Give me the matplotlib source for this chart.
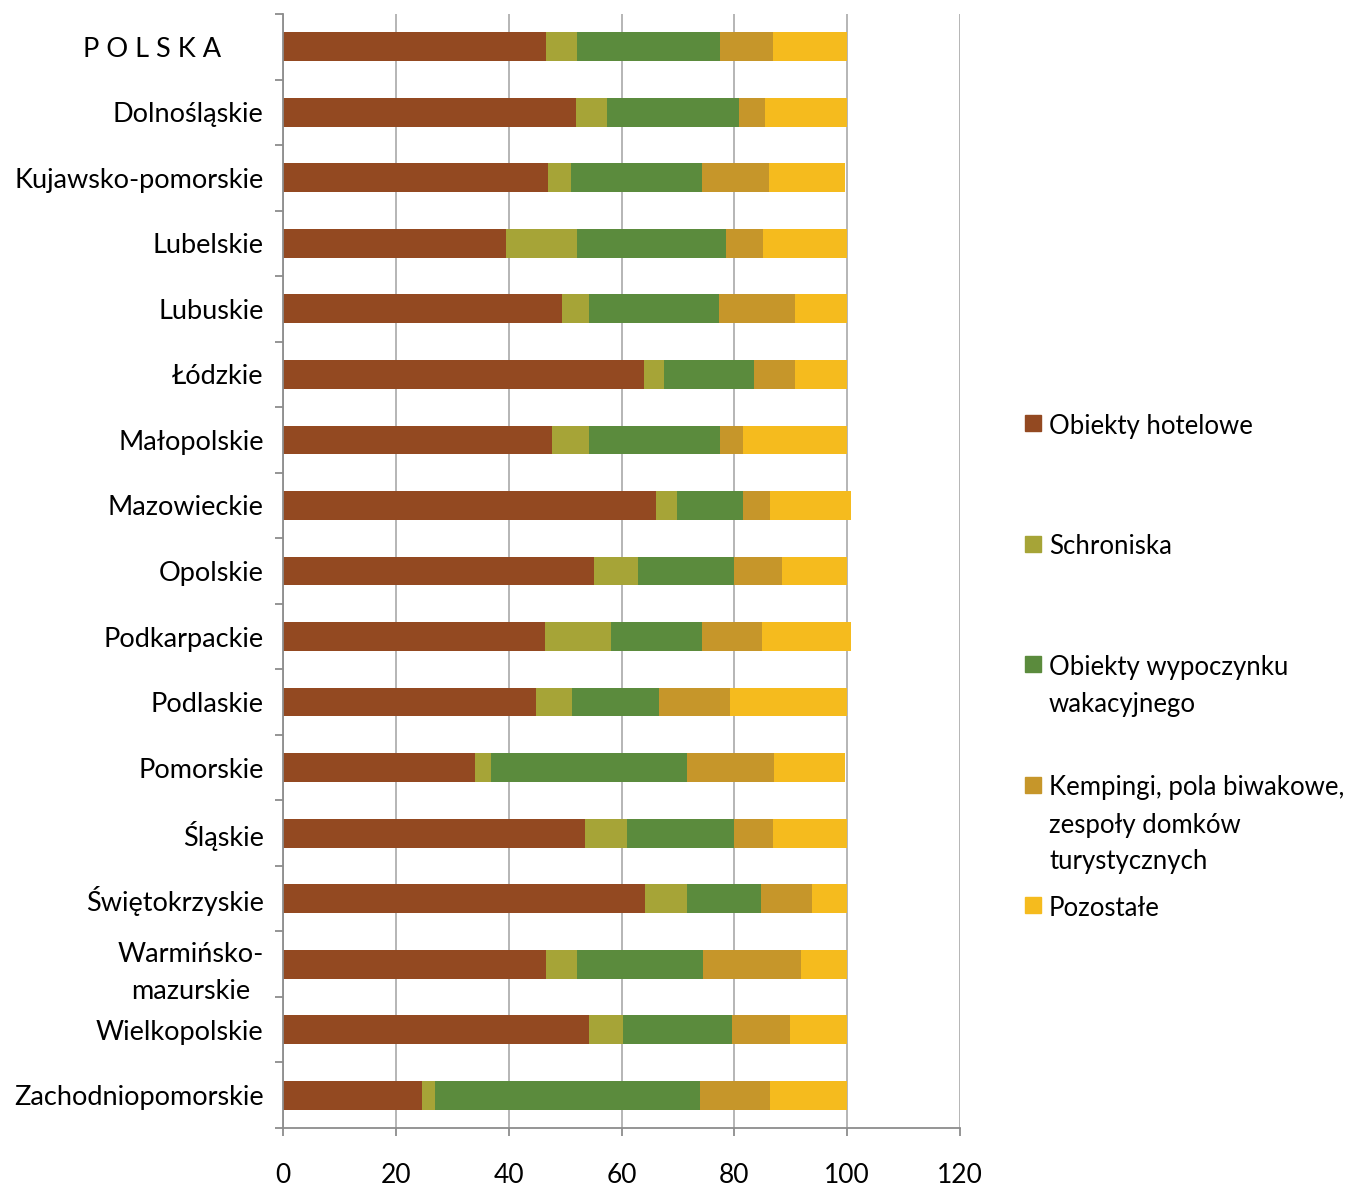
import numpy as np
import matplotlib
matplotlib.use("Agg")
import matplotlib.pyplot as plt
from matplotlib.patches import Rectangle
from matplotlib.ticker import MultipleLocator, FixedLocator
from matplotlib.transforms import ScaledTranslation

plt.rcParams['font.family'] = ['Lato', 'DejaVu Sans']

# regions, top to bottom
regions = ['P O L S K A      ', 'Dolnośląskie', 'Kujawsko-pomorskie', 'Lubelskie',
           'Lubuskie', 'Łódzkie', 'Małopolskie', 'Mazowieckie', 'Opolskie',
           'Podkarpackie', 'Podlaskie', 'Pomorskie', 'Śląskie', 'Świętokrzyskie',
           'Warmińsko-\nmazurskie', 'Wielkopolskie', 'Zachodniopomorskie']

hotelowe   = [46.6, 52.0, 46.9, 39.6, 49.4, 63.9, 47.6, 66.2, 55.2, 46.4, 44.9, 34.1, 53.6, 64.1, 46.7, 54.3, 24.7]
schroniska = [5.6, 5.5, 4.1, 12.6, 4.9, 3.6, 6.7, 3.6, 7.7, 11.8, 6.4, 2.8, 7.3, 7.5, 5.5, 5.9, 2.3]
wypoczynek = [25.2, 23.3, 23.2, 26.3, 22.9, 15.9, 23.1, 11.7, 17.1, 16.0, 15.4, 34.7, 19.1, 13.1, 22.2, 19.3, 46.9]
kempingi   = [9.4, 4.6, 11.9, 6.5, 13.5, 7.3, 4.1, 4.9, 8.4, 10.7, 12.5, 15.4, 6.8, 9.0, 17.4, 10.3, 12.5]
pozostale  = [13.2, 14.5, 13.5, 14.9, 9.3, 9.3, 18.4, 14.2, 11.5, 15.7, 20.7, 12.6, 13.1, 6.2, 8.1, 10.1, 13.5]

series = ['Obiekty hotelowe', 'Schroniska', 'Obiekty wypoczynku\nwakacyjnego',
          'Kempingi, pola biwakowe,\nzespoły domków\nturystycznych', 'Pozostałe']
colors = ['#934921', '#A6A437', '#5B8B3D', '#C6962A', '#F5BB1E']

fig = plt.figure(figsize=(13.57, 11.87), dpi=100)
ax = fig.add_axes([283/1357, 1 - 1128/1187, (960-283)/1357, (1128-14)/1187])

y = np.arange(len(regions))
left = np.zeros(len(regions))
for vals, c in zip([hotelowe, schroniska, wypoczynek, kempingi, pozostale], colors):
    ax.barh(y, vals, left=left, height=0.44, color=c, zorder=2)
    left += np.array(vals)

ax.set_xlim(0, 120)
ax.set_ylim(len(regions) - 0.5, -0.5)
ax.xaxis.set_major_locator(MultipleLocator(20))
ax.grid(axis='x', color='#B0B0B0', linewidth=1.3, zorder=0)
ax.set_axisbelow(True)

ax.set_yticks(y)
ax.set_yticklabels(regions, fontsize=19.5, multialignment='center')
for t in ax.get_yticklabels():
    t.set_linespacing(1.6)
    dy = 3 if '\n' in t.get_text() else -3
    t.set_transform(t.get_transform() + ScaledTranslation(0, dy/100, fig.dpi_scale_trans))
ax.yaxis.set_minor_locator(FixedLocator(np.arange(-0.5, len(regions), 1)))
ax.tick_params(axis='y', which='major', length=0, pad=14)
ax.tick_params(axis='y', which='minor', length=6, width=1.3, color='#8C8C8C')
ax.tick_params(axis='x', length=6, width=1.3, color='#8C8C8C', pad=19, labelsize=19)

for s in ['top', 'right']:
    ax.spines[s].set_visible(False)
for s in ['left', 'bottom']:
    ax.spines[s].set_color('#8C8C8C')
    ax.spines[s].set_linewidth(1.3)

# legend drawn by hand, Excel-like spacing
for i, (lab, c) in enumerate(zip(series, colors)):
    yc = 425 + i * 120.5
    fig.patches.append(Rectangle((1025/1357, 1 - (yc + 6)/1187), 16/1357, 16/1187,
                                 transform=fig.transFigure, color=c))
    fig.text(1049/1357, 1 - (yc - 11)/1187, lab, fontsize=18.5, va='top', ha='left',
             linespacing=1.6)

fig.savefig('out.png', dpi=100)
